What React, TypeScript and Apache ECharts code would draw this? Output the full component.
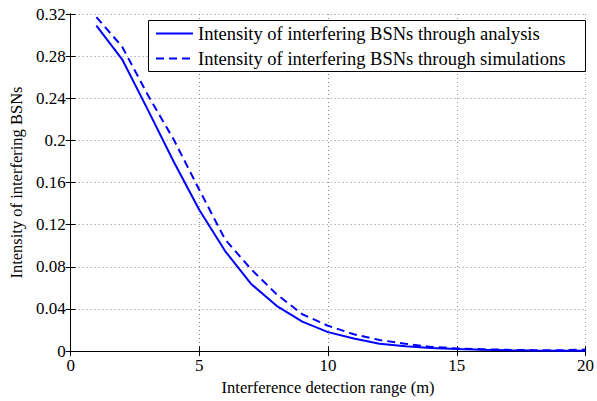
import React, { useEffect, useRef } from "react";
import * as echarts from "echarts";

const xValues = [1, 2, 3, 4, 5, 6, 7, 8, 9, 10, 11, 12, 13, 14, 15, 16, 17, 18, 19, 20];
const analysis = [0.309, 0.277, 0.229, 0.18, 0.134, 0.095, 0.064, 0.043, 0.028, 0.018, 0.012, 0.007, 0.0047, 0.003, 0.002, 0.0013, 0.0009, 0.0006, 0.0004, 0.0003];
const simulation = [0.317, 0.289, 0.243, 0.201, 0.153, 0.106, 0.078, 0.054, 0.035, 0.024, 0.016, 0.0105, 0.007, 0.004, 0.0025, 0.0018, 0.0012, 0.0009, 0.0008, 0.0015];
const seriesNames = [
  "Intensity of interfering BSNs through analysis",
  "Intensity of interfering BSNs through simulations",
];
const xAxisName = "Interference detection range (m)";
const yAxisName = "Intensity of interfering BSNs";

const FONT = "Liberation Serif";

export default function App() {
  const ref = useRef<HTMLDivElement>(null);
  useEffect(() => {
    if (!ref.current) return;
    const chart = echarts.init(ref.current, undefined, { renderer: "svg" });
    const axisLine = { show: true, lineStyle: { color: "#000", width: 1 } };
    const tick = { show: true, inside: true, length: 5, lineStyle: { color: "#000" } };
    const split = { show: true, lineStyle: { color: "#8a8a8a", type: [1, 3] as any, width: 1 } };
    chart.setOption({
      animation: false,
      backgroundColor: "#fff",
      textStyle: { fontFamily: FONT, color: "#000" },
      grid: { left: 69, top: 14, right: 10, bottom: 47, containLabel: false },
      graphic: [
        {
          type: "rect",
          shape: { x: 148.5, y: 20.5, width: 437, height: 51 },
          style: { fill: "#fff", stroke: "#000", lineWidth: 1 },
          z: 50,
        },
      ],
      legend: {
        left: 155,
        top: 24,
        orient: "vertical",
        padding: 0,
        itemWidth: 37,
        itemHeight: 18,
        itemGap: 6,
        z: 60,
        itemStyle: { opacity: 0 },
        textStyle: { fontFamily: FONT, fontSize: 18.5, color: "#000", lineHeight: 18 },
        data: seriesNames,
      },
      xAxis: [
        {
          type: "value",
          min: 0,
          max: 20,
          interval: 5,
          name: xAxisName,
          nameLocation: "middle",
          nameGap: 24,
          nameTextStyle: { fontFamily: FONT, fontSize: 16.5, color: "#000" },
          axisLine,
          axisTick: tick,
          axisLabel: { fontFamily: FONT, fontSize: 17, color: "#000", margin: 6 },
          splitLine: split,
        },
        {
          type: "value",
          position: "top",
          min: 0,
          max: 20,
          interval: 5,
          axisLine,
          axisTick: tick,
          axisLabel: { show: false },
          splitLine: { show: false },
        },
      ],
      yAxis: [
        {
          type: "value",
          min: 0,
          max: 0.32,
          interval: 0.04,
          name: yAxisName,
          nameLocation: "middle",
          nameGap: 45,
          nameTextStyle: { fontFamily: FONT, fontSize: 16.5, color: "#000" },
          axisLine,
          axisTick: tick,
          axisLabel: {
            fontFamily: FONT,
            fontSize: 17,
            color: "#000",
            margin: 5,
            formatter: (v: number) => (v === 0 ? "0" : String(parseFloat(v.toFixed(2)))),
          },
          splitLine: split,
        },
        {
          type: "value",
          position: "right",
          min: 0,
          max: 0.32,
          interval: 0.04,
          axisLine,
          axisTick: tick,
          axisLabel: { show: false },
          splitLine: { show: false },
        },
      ],
      series: [
        {
          name: seriesNames[0],
          type: "line",
          data: xValues.map((x, i) => [x, analysis[i]]),
          symbol: "none",
          lineStyle: { color: "#0000ff", width: 2 },
          itemStyle: { color: "#0000ff" },
          z: 10,
        },
        {
          name: seriesNames[1],
          type: "line",
          data: xValues.map((x, i) => [x, simulation[i]]),
          symbol: "none",
          lineStyle: { color: "#0000ff", width: 2, type: [8, 5] },
          itemStyle: { color: "#0000ff" },
          z: 10,
        },
      ],
    });
    return () => chart.dispose();
  }, []);
  return (
    <div
      ref={ref}
      style={{ position: "fixed", left: 0, top: 0, width: 597, height: 401 }}
    />
  );
}
